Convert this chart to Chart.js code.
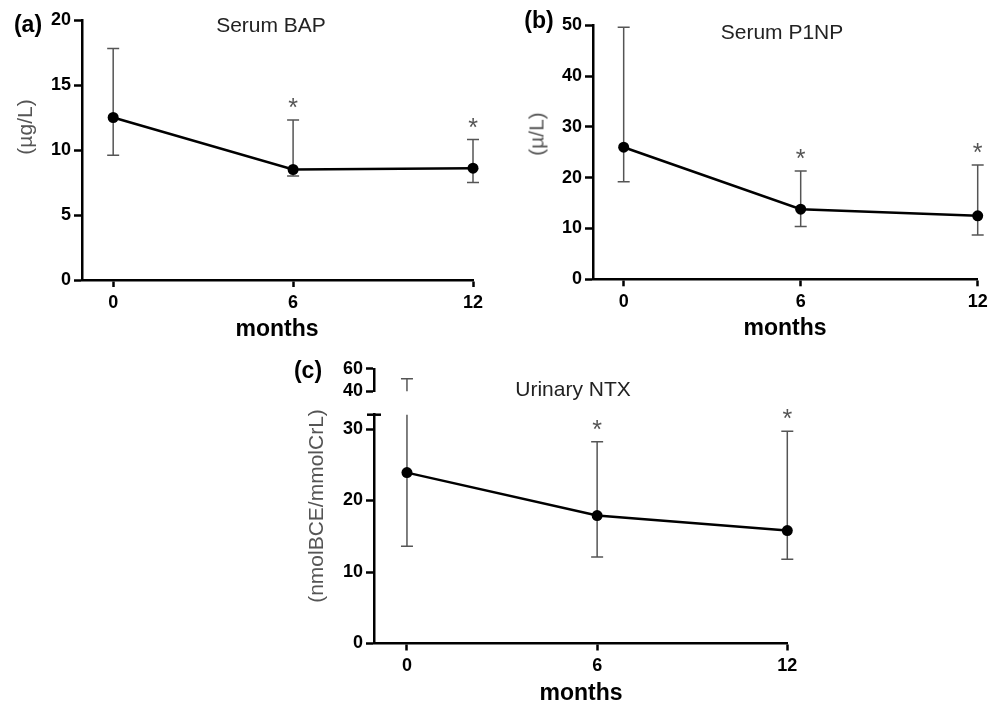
<!DOCTYPE html>
<html><head><meta charset="utf-8">
<script src="https://cdn.jsdelivr.net/npm/chart.js@4.4.0/dist/chart.umd.min.js"></script>
<style>
html,body{margin:0;padding:0;background:#fff;}
#wrap{position:relative;width:997px;height:705px;overflow:hidden;font-family:"Liberation Sans",Arial,Helvetica,sans-serif;}
canvas{position:absolute;}
.t{position:absolute;white-space:nowrap;transform:translate(-50%,-50%);line-height:1;}
.ttl{font-size:21px;color:#222;}
.pl{font-size:23px;font-weight:bold;color:#000;}
.mo{font-size:23px;font-weight:bold;color:#000;}
.yl{position:absolute;white-space:nowrap;transform:translate(-50%,-50%) rotate(-90deg);line-height:1;color:#555;font-size:21px;}
</style></head><body>
<div id="wrap">
<canvas id="ca" width="500" height="345" style="left:0;top:0"></canvas>
<canvas id="cb" width="497" height="345" style="left:500px;top:0"></canvas>
<canvas id="cc2" width="530" height="305" style="left:280px;top:400px"></canvas>
<canvas id="cc1" width="530" height="50" style="left:280px;top:355px"></canvas>

<div class="t pl" style="left:28px;top:24px">(a)</div>
<div class="t pl" style="left:539px;top:20px">(b)</div>
<div class="t pl" style="left:308px;top:370px">(c)</div>

<div class="t ttl" style="left:271px;top:24px">Serum BAP</div>
<div class="t ttl" style="left:782px;top:31px">Serum P1NP</div>
<div class="t ttl" style="left:573px;top:388px">Urinary NTX</div>

<div class="yl" style="left:24px;top:127px">(µg/L)</div>
<div class="yl" style="left:536px;top:134px">(µ/L)</div>
<div class="yl" style="left:315px;top:506px">(nmolBCE/mmolCrL)</div>

<div class="t mo" style="left:277px;top:328px">months</div>
<div class="t mo" style="left:785px;top:327px">months</div>
<div class="t mo" style="left:581px;top:692px">months</div>
</div>
<script>
// ---- data ----
const months = [0, 6, 12];
const xTicks = [0, 6, 12];
const sigMarks = ['', '*', '*'];

const bapMean  = [12.5, 8.5, 8.6];
const bapUpper = [17.8, 12.3, 10.8];
const bapLower = [9.6, 8.0, 7.5];
const bapTicks = [0, 5, 10, 15, 20];

const p1npMean  = [26.0, 13.8, 12.5];
const p1npUpper = [49.6, 21.3, 22.5];
const p1npLower = [19.2, 10.4, 8.7];
const p1npTicks = [0, 10, 20, 30, 40, 50];

const ntxMean  = [23.9, 17.9, 15.8];
const ntxUpper = [51.2, 28.2, 29.7];
const ntxLower = [13.6, 12.1, 11.8];
const ntxTicksLow  = [0, 10, 20, 30];
const ntxTicksHigh = [40, 60];

// ---- helpers ----
const FAM = '"Liberation Sans", Arial, Helvetica, sans-serif';

function errPlugin(upper, lower, marks, breakMark) {
  return {
    id: 'err',
    beforeDatasetsDraw(chart) {
      const {ctx, chartArea, scales} = chart;
      const x = scales.x, y = scales.y;
      ctx.save();
      ctx.beginPath();
      ctx.rect(chartArea.left - 20, chartArea.top, chartArea.right - chartArea.left + 40, chartArea.bottom - chartArea.top);
      ctx.clip();
      ctx.strokeStyle = '#555';
      ctx.lineWidth = 1.5;
      months.forEach((m, i) => {
        const px = x.getPixelForValue(m);
        const pu = y.getPixelForValue(upper[i]);
        const pl = y.getPixelForValue(lower[i]);
        ctx.beginPath();
        ctx.moveTo(px, pu); ctx.lineTo(px, pl);
        ctx.moveTo(px - 6, pu); ctx.lineTo(px + 6, pu);
        ctx.moveTo(px - 6, pl); ctx.lineTo(px + 6, pl);
        ctx.stroke();
      });
      ctx.restore();
    },
    afterDatasetsDraw(chart) {
      const {ctx, scales} = chart;
      const x = scales.x, y = scales.y;
      ctx.save();
      if (marks) {
        ctx.fillStyle = '#555';
        ctx.font = '25px ' + FAM;
        ctx.textAlign = 'center';
        ctx.textBaseline = 'alphabetic';
        months.forEach((m, i) => {
          if (!marks[i]) return;
          const px = x.getPixelForValue(m);
          const pu = y.getPixelForValue(upper[i]);
          ctx.fillText(marks[i], px, pu - 4);
        });
      }
      if (breakMark) {
        const ax = x.left;
        const ty = y.getPixelForValue(y.max);
        ctx.strokeStyle = '#000';
        ctx.lineWidth = 2.5;
        ctx.beginPath();
        ctx.moveTo(ax - 7, ty); ctx.lineTo(ax + 7, ty);
        ctx.stroke();
      }
      ctx.restore();
    }
  };
}

function makeChart(id, mean, upper, lower, yTicks, ymin, ymax, pad, yWidth, xHeight, opts) {
  opts = opts || {};
  const showX = opts.showX !== false;
  const ds = {
    data: months.map((m, i) => ({x: m, y: mean[i]})),
    borderColor: '#000',
    backgroundColor: '#000',
    borderWidth: opts.hideSeries ? 0 : 2.5,
    showLine: !opts.hideSeries,
    pointRadius: opts.hideSeries ? 0 : 5.5,
    pointBackgroundColor: '#000',
    pointBorderWidth: 0,
    tension: 0,
    clip: opts.hideSeries ? 0 : false
  };
  return new Chart(document.getElementById(id), {
    type: 'line',
    data: {datasets: [ds]},
    options: {
      responsive: false,
      animation: false,
      devicePixelRatio: 1,
      layout: {padding: pad},
      plugins: {legend: {display: false}, tooltip: {enabled: false}, title: {display: false}},
      scales: {
        x: {
          type: 'linear', min: -1.04, max: 12, display: showX,
          afterBuildTicks: s => { s.ticks = xTicks.map(v => ({value: v})); },
          afterFit: s => { s.height = xHeight; },
          grid: {drawOnChartArea: false, drawTicks: true, tickLength: 7, tickWidth: 2.5, tickColor: '#000'},
          border: {display: true, color: '#000', width: 2.5},
          ticks: {color: '#000', font: {family: FAM, size: 18, weight: 'bold'}, padding: 5, maxRotation: 0, autoSkip: false}
        },
        y: {
          type: 'linear', min: ymin, max: ymax,
          afterBuildTicks: s => { s.ticks = yTicks.map(v => ({value: v})); },
          afterFit: s => { s.width = yWidth; },
          grid: {drawOnChartArea: false, drawTicks: true, tickLength: 8, tickWidth: 2.5, tickColor: '#000'},
          border: {display: true, color: '#000', width: 2.5},
          ticks: {color: '#000', font: {family: FAM, size: 18, weight: 'bold'}, padding: 3, autoSkip: false}
        }
      }
    },
    plugins: [errPlugin(upper, lower, opts.marks, opts.breakMark)]
  });
}

// (a) Serum BAP
makeChart('ca', bapMean, bapUpper, bapLower, bapTicks, 0, 20,
  {left: 0, top: 20, right: 27, bottom: 0}, 82, 65, {marks: sigMarks});
// (b) Serum P1NP
makeChart('cb', p1npMean, p1npUpper, p1npLower, p1npTicks, 0, 50,
  {left: 0, top: 25.3, right: 19.3, bottom: 0}, 93, 65.7, {marks: sigMarks});
// (c) Urinary NTX, lower segment
makeChart('cc2', ntxMean, ntxUpper, ntxLower, ntxTicksLow, 0, 32,
  {left: 0, top: 14.7, right: 22.7, bottom: 0}, 94, 61.5, {marks: sigMarks, breakMark: true});
// (c) Urinary NTX, upper segment of broken axis
makeChart('cc1', ntxMean, ntxUpper, ntxLower, ntxTicksHigh, 40, 60,
  {left: 0, top: 13.5, right: 22.7, bottom: 12}, 94, 0, {showX: false, hideSeries: true});
</script>
</body></html>
